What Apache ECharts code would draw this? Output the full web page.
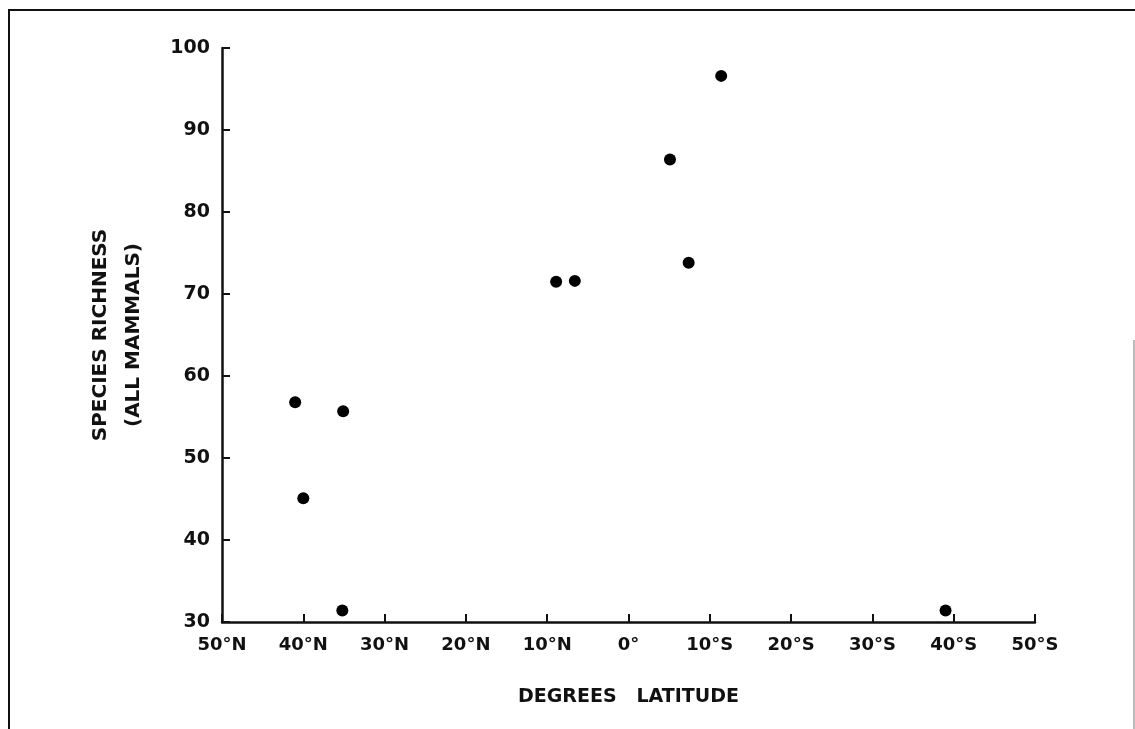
<!DOCTYPE html>
<html>
<head>
<meta charset="utf-8">
<script src="https://cdn.jsdelivr.net/npm/echarts@6/dist/echarts.min.js"></script>
<style>
html,body{margin:0;padding:0;background:#fff;}
#chart{width:1135px;height:729px;}
</style>
</head>
<body>
<div id="chart"></div>
<script>
// Latitude: negative = North, positive = South
var latitude = [-41.0, -35.1, -40.0, -35.2, -8.9, -6.6, 5.1, 7.4, 11.4, 39.0];
var richness = [56.8, 55.7, 45.1, 31.4, 71.5, 71.6, 86.4, 73.8, 96.6, 31.4];
var xTickValues = [-50, -40, -30, -20, -10, 0, 10, 20, 30, 40, 50];
var xTickLabels = ['50°N', '40°N', '30°N', '20°N', '10°N', '0°', '10°S', '20°S', '30°S', '40°S', '50°S'];
var yTickValues = [30, 40, 50, 60, 70, 80, 90, 100];
var xTitle = 'DEGREES   LATITUDE';
var yTitle = 'SPECIES RICHNESS\n(ALL MAMMALS)';

var points = latitude.map(function (v, i) { return [v, richness[i]]; });
var fontFam = '"DejaVu Sans", "Open Sans", sans-serif';

var chart = echarts.init(document.getElementById('chart'), null, {renderer: 'canvas'});
chart.setOption({
  animation: false,
  backgroundColor: '#ffffff',
  graphic: [
    {type: 'line', shape: {x1: 8, y1: 10, x2: 1135, y2: 10}, style: {stroke: '#111', lineWidth: 2}, silent: true},
    {type: 'line', shape: {x1: 9, y1: 10, x2: 9, y2: 729}, style: {stroke: '#111', lineWidth: 2}, silent: true},
    {type: 'line', shape: {x1: 1134, y1: 340, x2: 1134, y2: 729}, style: {stroke: '#777', lineWidth: 1}, silent: true}
  ],
  grid: {left: 222, right: 100, top: 48, bottom: 107, containLabel: false},
  xAxis: {
    type: 'value',
    min: -50, max: 50, interval: 10,
    name: xTitle,
    nameLocation: 'middle',
    nameGap: 66,
    nameTextStyle: {color: '#111', fontFamily: fontFam, fontWeight: 'bold', fontSize: 19},
    axisLine: {show: true, onZero: false, lineStyle: {color: '#111', width: 2.5}},
    axisTick: {show: true, inside: true, length: 8, lineStyle: {color: '#111', width: 2}},
    axisLabel: {
      color: '#111', fontFamily: fontFam, fontWeight: 'bold', fontSize: 18, margin: 14,
      formatter: function (v) { var i = xTickValues.indexOf(v); return i >= 0 ? xTickLabels[i] : ''; }
    },
    splitLine: {show: false}
  },
  yAxis: {
    type: 'value',
    min: 30, max: 100, interval: 10,
    name: yTitle,
    nameLocation: 'middle',
    nameRotate: 90,
    nameGap: 72,
    nameTextStyle: {color: '#111', fontFamily: fontFam, fontWeight: 'bold', fontSize: 20, lineHeight: 33},
    axisLine: {show: true, onZero: false, lineStyle: {color: '#111', width: 2.5}},
    axisTick: {show: true, inside: true, length: 8, lineStyle: {color: '#111', width: 2}},
    axisLabel: {color: '#111', fontFamily: fontFam, fontWeight: 'bold', fontSize: 19, margin: 12,
      formatter: function (v) { return yTickValues.indexOf(v) >= 0 ? String(v) : ''; }},
    splitLine: {show: false}
  },
  series: [{
    type: 'scatter',
    data: points,
    symbol: 'circle',
    symbolSize: 12,
    itemStyle: {color: '#000', opacity: 1}
  }]
});
</script>
</body>
</html>
